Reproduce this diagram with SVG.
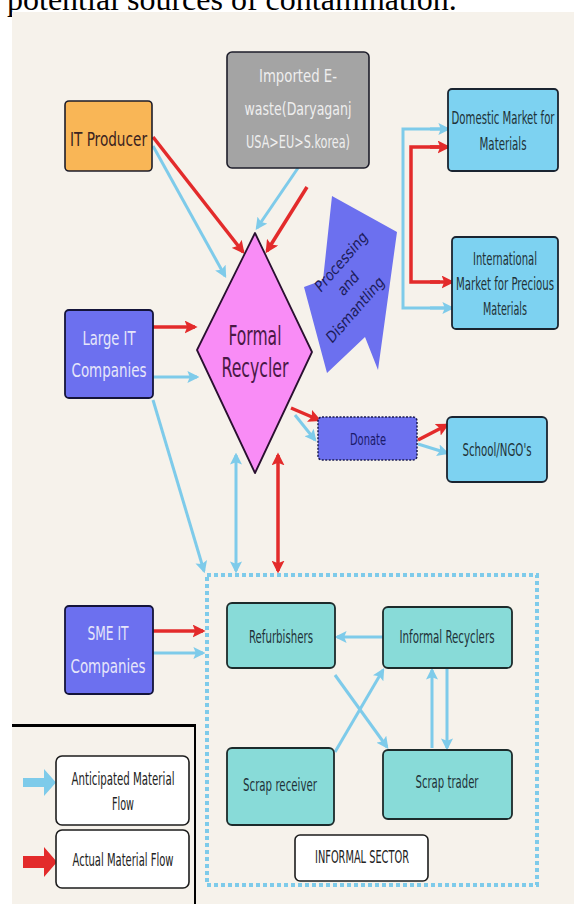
<svg xmlns="http://www.w3.org/2000/svg" width="574" height="904" viewBox="0 0 574 904">
<defs>
<style>
.lb{stroke:#7ecbea;stroke-width:3;fill:none}
.rd{stroke:#e32b2b;stroke-width:3.5;fill:none}
.t{font-family:"DejaVu Sans Condensed","Liberation Sans",sans-serif;text-anchor:middle}
.box{stroke:#1d1d2a;stroke-width:1.6}
.teal{fill:#88dbd8;stroke:#1c2b2b;stroke-width:1.8}
.sky{fill:#7dd2f1;stroke:#1a2430;stroke-width:1.8}
.pur{fill:#6c70ef;stroke:#14143a;stroke-width:1.8}
.dark{fill:#1f3238}
</style>
<marker id="ab" viewBox="0 0 10 10" refX="8" refY="5" markerWidth="12" markerHeight="12" markerUnits="userSpaceOnUse" orient="auto-start-reverse"><path d="M0,0 L10,5 L0,10 L2,5 z" fill="#7ecbea"/></marker>
<marker id="ar" viewBox="0 0 10 10" refX="8" refY="5" markerWidth="13" markerHeight="13" markerUnits="userSpaceOnUse" orient="auto-start-reverse"><path d="M0,0 L10,5 L0,10 L2,5 z" fill="#e32b2b"/></marker>
</defs>
<rect width="574" height="904" fill="#ffffff"/>
<text x="7" y="10" font-family="Liberation Serif, serif" font-size="32" fill="#000">potential sources of contamination.</text>
<rect x="12" y="12" width="562" height="892" fill="#f6f2eb"/>

<g id="connectors">
<!-- IT producer -->
<line class="rd" x1="153" y1="137" x2="243" y2="252" marker-end="url(#ar)"/>
<line class="lb" x1="153" y1="146" x2="225" y2="276" marker-end="url(#ab)"/>
<!-- imported -->
<line class="lb" x1="298" y1="168" x2="257" y2="228" marker-end="url(#ab)"/>
<line class="rd" x1="307" y1="187" x2="267" y2="251" marker-end="url(#ar)"/>
<!-- Large IT -->
<line class="rd" x1="153" y1="327" x2="195" y2="327" marker-end="url(#ar)"/>
<line class="lb" x1="153" y1="377" x2="197" y2="377" marker-end="url(#ab)"/>
<line class="lb" x1="153" y1="400" x2="204" y2="571" marker-end="url(#ab)"/>
<!-- recycler <-> informal -->
<line class="lb" x1="236" y1="455" x2="236" y2="571" marker-start="url(#ab)" marker-end="url(#ab)"/>
<line class="rd" x1="278" y1="455" x2="278" y2="571" marker-start="url(#ar)" marker-end="url(#ar)"/>
<!-- SME -->
<line class="rd" x1="153" y1="631" x2="203" y2="631" marker-end="url(#ar)"/>
<line class="lb" x1="153" y1="653" x2="203" y2="653" marker-end="url(#ab)"/>
<!-- markets -->
<polyline class="lb" points="448,129 403,129 403,308 452,308" fill="none"/>
<line class="lb" x1="430" y1="129" x2="448" y2="129" marker-end="url(#ab)"/>
<line class="lb" x1="430" y1="308" x2="452" y2="308" marker-end="url(#ab)"/>
<polyline class="rd" points="440,147 411,147 411,282 440,282" fill="none"/>
<line class="rd" x1="430" y1="147" x2="448" y2="147" marker-end="url(#ar)"/>
<line class="rd" x1="430" y1="282" x2="452" y2="282" marker-end="url(#ar)"/>
<!-- donate -->
<line class="rd" x1="291" y1="408" x2="319" y2="420" marker-end="url(#ar)"/>
<line class="lb" x1="295" y1="415" x2="315" y2="440" marker-end="url(#ab)"/>
<line class="rd" x1="418" y1="440" x2="447" y2="425" marker-end="url(#ar)"/>
<line class="lb" x1="418" y1="444" x2="447" y2="453" marker-end="url(#ab)"/>
<!-- informal internal -->
<line class="lb" x1="383" y1="637" x2="337" y2="637" stroke-width="4" marker-end="url(#ab)"/>
<line class="lb" x1="335" y1="675" x2="387" y2="747" marker-end="url(#ab)"/>
<line class="lb" x1="335" y1="752" x2="383" y2="670" marker-end="url(#ab)"/>
<line class="lb" x1="432" y1="748" x2="432" y2="670" marker-end="url(#ab)"/>
<line class="lb" x1="447" y1="669" x2="447" y2="748" marker-end="url(#ab)"/>
</g>

<g id="informal-sector">
<rect x="207" y="575" width="330" height="310" fill="none" stroke="#7ecbea" stroke-width="4" stroke-dasharray="4 3"/>
</g>

<g id="it-producer">
<rect class="box" x="65" y="101" width="87" height="70" rx="4" fill="#f9b656"/>
<text class="t" x="108.5" y="146" font-size="20" fill="#3b2320" textLength="77" lengthAdjust="spacingAndGlyphs">IT Producer</text>
</g>

<g id="imported">
<rect class="box" x="227" y="52" width="142" height="116" rx="5" fill="#a4a4a4"/>
<text class="t" x="298" y="82" font-size="18" fill="#eeeeee" textLength="78" lengthAdjust="spacingAndGlyphs">Imported E-</text>
<text class="t" x="298" y="115" font-size="18" fill="#eeeeee" textLength="107" lengthAdjust="spacingAndGlyphs">waste(Daryaganj</text>
<text class="t" x="298" y="148" font-size="18" fill="#eeeeee" textLength="104" lengthAdjust="spacingAndGlyphs">USA&gt;EU&gt;S.korea)</text>
</g>

<g id="large-it">
<rect class="pur" x="65" y="310" width="88" height="88" rx="4"/>
<text class="t" x="109" y="345" font-size="20" fill="#e6e6fa" textLength="53" lengthAdjust="spacingAndGlyphs">Large IT</text>
<text class="t" x="109" y="377" font-size="20" fill="#e6e6fa" textLength="75" lengthAdjust="spacingAndGlyphs">Companies</text>
</g>

<g id="sme-it">
<rect class="pur" x="65" y="606" width="88" height="88" rx="4"/>
<text class="t" x="108" y="640" font-size="20" fill="#e6e6fa" textLength="41" lengthAdjust="spacingAndGlyphs">SME IT</text>
<text class="t" x="108" y="673" font-size="20" fill="#e6e6fa" textLength="75" lengthAdjust="spacingAndGlyphs">Companies</text>
</g>

<g id="formal-recycler">
<polygon points="255,233 312,352 255,473 197,350" fill="#f98cf6" stroke="#2a1030" stroke-width="1.8" stroke-linejoin="round"/>
<text class="t" x="255" y="345" font-size="27" fill="#4a1845" textLength="53" lengthAdjust="spacingAndGlyphs">Formal</text>
<text class="t" x="255" y="377" font-size="27" fill="#4a1845" textLength="67" lengthAdjust="spacingAndGlyphs">Recycler</text>
</g>

<g id="processing">
<polygon points="332,196 397,232 378,370 365,337 327,373 304,287 323,280" fill="#6c70ef"/>
<g font-family="DejaVu Sans Condensed, Liberation Sans, sans-serif" font-style="italic" font-size="15" fill="#1c1c5a" text-anchor="middle">
<text transform="translate(345,265) rotate(-49)">Processing</text>
<text transform="translate(352,287) rotate(-49)">and</text>
<text transform="translate(359,313) rotate(-49)">Dismantling</text>
</g>
</g>

<g id="domestic-market">
<rect class="sky" x="448" y="89" width="110" height="82" rx="4"/>
<text class="t dark" x="503" y="124" font-size="17" textLength="103" lengthAdjust="spacingAndGlyphs">Domestic Market for</text>
<text class="t dark" x="503" y="150" font-size="17" textLength="47" lengthAdjust="spacingAndGlyphs">Materials</text>
</g>

<g id="international-market">
<rect class="sky" x="452" y="237" width="106" height="92" rx="4"/>
<text class="t dark" x="505" y="265" font-size="17" textLength="64" lengthAdjust="spacingAndGlyphs">International</text>
<text class="t dark" x="505" y="290" font-size="17" textLength="98" lengthAdjust="spacingAndGlyphs">Market for Precious</text>
<text class="t dark" x="505" y="315" font-size="17" textLength="44" lengthAdjust="spacingAndGlyphs">Materials</text>
</g>

<g id="donate">
<rect x="318" y="417" width="99" height="43" rx="4" fill="#6c70ef" stroke="#1c1c50" stroke-width="1.5" stroke-dasharray="2 1.5"/>
<text class="t" x="368" y="445" font-size="16" fill="#1a1a6a" textLength="36" lengthAdjust="spacingAndGlyphs">Donate</text>
</g>

<g id="school-ngo">
<rect class="sky" x="447" y="417" width="100" height="65" rx="5"/>
<text class="t dark" x="497" y="456" font-size="17" textLength="69" lengthAdjust="spacingAndGlyphs">School/NGO's</text>
</g>

<g id="refurbishers">
<rect class="teal" x="227" y="603" width="108" height="65" rx="5"/>
<text class="t dark" x="281" y="643" font-size="17" textLength="64" lengthAdjust="spacingAndGlyphs">Refurbishers</text>
</g>

<g id="informal-recyclers">
<rect class="teal" x="383" y="607" width="129" height="61" rx="5"/>
<text class="t dark" x="447" y="643" font-size="17" textLength="95" lengthAdjust="spacingAndGlyphs">Informal Recyclers</text>
</g>

<g id="scrap-receiver">
<rect class="teal" x="227" y="748" width="107" height="77" rx="5"/>
<text class="t dark" x="280" y="791" font-size="17" textLength="74" lengthAdjust="spacingAndGlyphs">Scrap receiver</text>
</g>

<g id="scrap-trader">
<rect class="teal" x="383" y="750" width="129" height="69" rx="5"/>
<text class="t dark" x="447" y="788" font-size="17" textLength="63" lengthAdjust="spacingAndGlyphs">Scrap trader</text>
</g>

<g id="informal-label">
<rect x="295" y="835" width="133" height="46" rx="5" fill="#ffffff" stroke="#1d1d1d" stroke-width="1.6"/>
<text class="t" x="362" y="863" font-size="17" fill="#222" textLength="94" lengthAdjust="spacingAndGlyphs">INFORMAL SECTOR</text>
</g>

<g id="legend">
<line x1="12" y1="725.5" x2="196" y2="725.5" stroke="#000" stroke-width="3"/>
<line x1="195" y1="725" x2="195" y2="904" stroke="#000" stroke-width="2"/>
<polygon points="23,778 44,778 44,769 56,782.5 44,796 44,787 23,787" fill="#7ecbea"/>
<polygon points="23,856 44,856 44,847 57,862 44,877 44,868 23,868" fill="#e32b2b"/>
<rect x="56" y="756" width="133" height="69" rx="6" fill="#fff" stroke="#1d1d1d" stroke-width="1.6"/>
<text class="t" x="123" y="785" font-size="17" fill="#222" textLength="103" lengthAdjust="spacingAndGlyphs">Anticipated Material</text>
<text class="t" x="123" y="810" font-size="17" fill="#222" textLength="22" lengthAdjust="spacingAndGlyphs">Flow</text>
<rect x="56" y="830" width="133" height="58" rx="6" fill="#fff" stroke="#1d1d1d" stroke-width="1.6"/>
<text class="t" x="123" y="866" font-size="17" fill="#222" textLength="101" lengthAdjust="spacingAndGlyphs">Actual Material Flow</text>
</g>
</svg>
